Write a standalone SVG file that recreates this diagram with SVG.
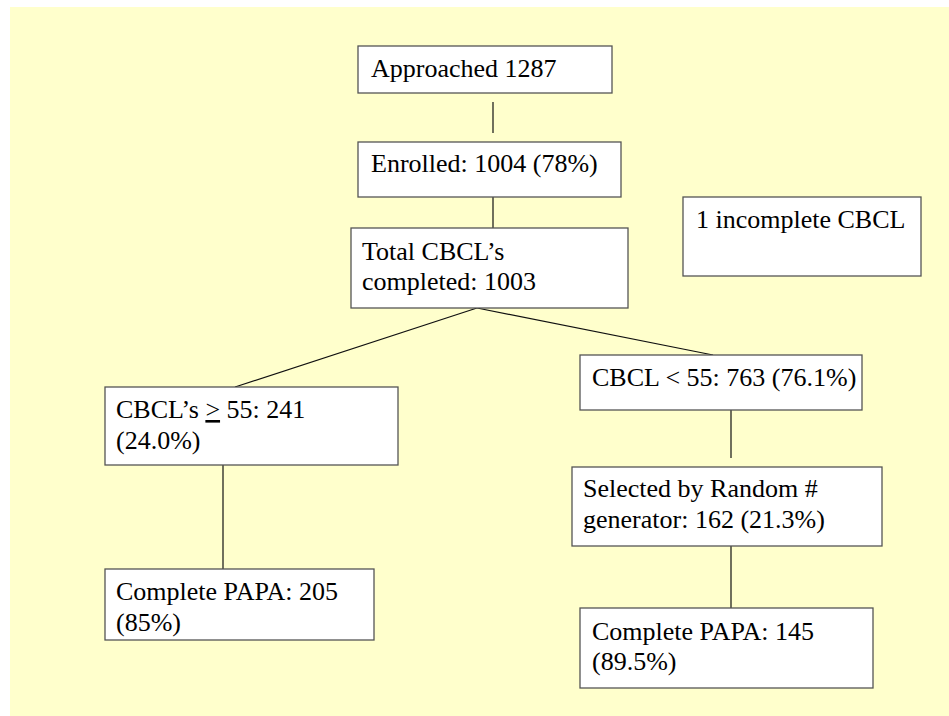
<svg xmlns="http://www.w3.org/2000/svg" width="949" height="716" viewBox="0 0 949 716">
<style>
.box{fill:#ffffff;stroke:#555555;stroke-width:1.3}
.t{font-family:"Liberation Serif","Times New Roman",serif;font-size:26px;fill:#000000}
.c{stroke:#111111;stroke-width:1.2;fill:none}
</style>
<rect x="0" y="0" width="949" height="716" fill="#ffffff"/>
<rect x="10" y="7" width="939" height="709" fill="#ffffcc"/>
<g id="connectors">
<line class="c" x1="493" y1="102" x2="493" y2="133"/>
<line class="c" x1="493" y1="197" x2="493" y2="228"/>
<line class="c" x1="477" y1="308" x2="235" y2="387"/>
<line class="c" x1="477" y1="308" x2="713" y2="355"/>
<line class="c" x1="223" y1="465" x2="223" y2="569"/>
<line class="c" x1="731" y1="410" x2="731" y2="458"/>
<line class="c" x1="731" y1="546" x2="731" y2="608"/>
</g>
<g id="approached">
<rect class="box" x="358" y="46" width="254" height="47"/>
<text class="t" x="371" y="77">Approached 1287</text>
</g>
<g id="enrolled">
<rect class="box" x="358" y="142" width="263" height="55"/>
<text class="t" x="371" y="172">Enrolled: 1004 (78%)</text>
</g>
<g id="total">
<rect class="box" x="351" y="228" width="277" height="80"/>
<text class="t" x="362" y="260">Total CBCL’s</text>
<text class="t" x="362" y="290">completed: 1003</text>
</g>
<g id="incomplete">
<rect class="box" x="683" y="197" width="238" height="79"/>
<text class="t" x="696" y="228">1 incomplete CBCL</text>
</g>
<g id="cbcl-high">
<rect class="box" x="105" y="387" width="293" height="78"/>
<text class="t" x="116" y="418">CBCL’s <tspan text-decoration="underline">&gt;</tspan> 55: 241</text>
<text class="t" x="116" y="449">(24.0%)</text>
</g>
<g id="cbcl-low">
<rect class="box" x="580" y="355" width="282" height="55"/>
<text class="t" x="592" y="386">CBCL &lt; 55: 763 (76.1%)</text>
</g>
<g id="selected">
<rect class="box" x="572" y="467" width="310" height="79"/>
<text class="t" x="583" y="497">Selected by Random #</text>
<text class="t" x="583" y="528">generator: 162 (21.3%)</text>
</g>
<g id="papa-205">
<rect class="box" x="105" y="569" width="269" height="71"/>
<text class="t" x="116" y="600">Complete PAPA: 205</text>
<text class="t" x="116" y="631">(85%)</text>
</g>
<g id="papa-145">
<rect class="box" x="580" y="608" width="293" height="80"/>
<text class="t" x="592" y="640">Complete PAPA: 145</text>
<text class="t" x="592" y="670">(89.5%)</text>
</g>
</svg>
